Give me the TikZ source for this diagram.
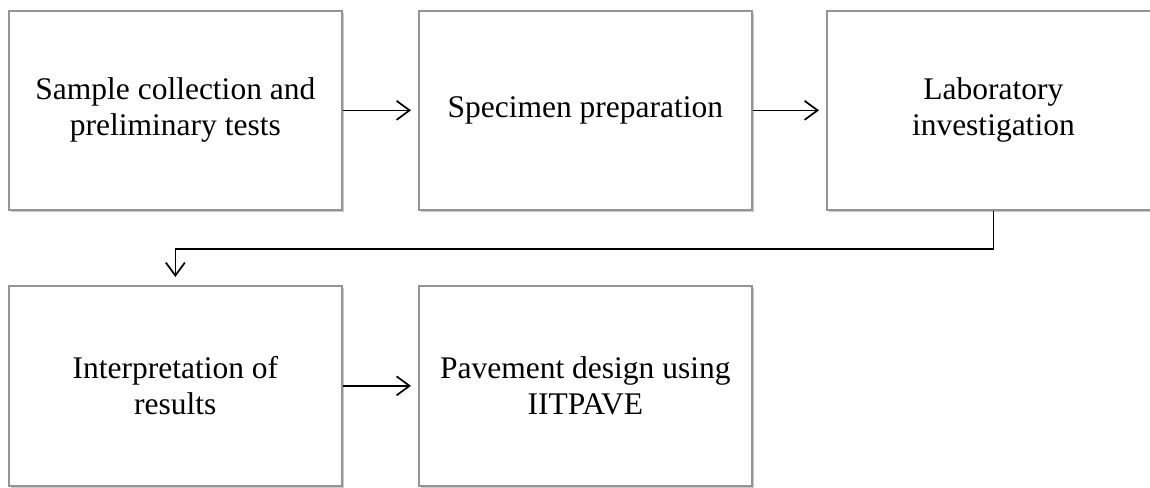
\documentclass[tikz,border=0pt]{standalone}
\usepackage{fontspec}
\setmainfont{Liberation Serif}
\usetikzlibrary{arrows.meta,shadows}
\begin{document}
\begin{tikzpicture}[x=1pt,y=-1pt,
  stepbox/.style={draw=black!42, line width=1.7pt, fill=white, anchor=north west,
    minimum width=333pt, inner sep=0pt, align=center,
    font=\fontsize{31.5}{36}\selectfont,
    drop shadow={shadow xshift=2pt, shadow yshift=-2.5pt, opacity=0.35, fill=black!60}},
  arr/.style={draw=black, line width=1.7pt, -{Straight Barb[length=13pt,width=19pt,line width=1.7pt]}}]
\useasboundingbox (0,0) rectangle (1150,487);
\node[stepbox, minimum height=199pt] (b1) at (8,10) {Sample collection and\\preliminary tests};
\node[stepbox, minimum height=199pt] (b2) at (418,10) {Specimen preparation};
\node[stepbox, minimum height=199pt] (b3) at (826,10) {Laboratory\\investigation};
\node[stepbox, minimum height=200pt] (b4) at (8,285) {Interpretation of\\results};
\node[stepbox, minimum height=200pt] (b5) at (418,285) {Pavement design using\\IITPAVE};
\draw[arr, shorten >=7pt] (b1.east) -- (b2.west);
\draw[arr, shorten >=7pt] (b2.east) -- (b3.west);
\draw[arr, shorten >=7pt] (b4.east) -- (b5.west);
\draw[arr, shorten >=8pt] (b3.south) -- ++(0,38) -| (b4.north);
\end{tikzpicture}
\end{document}
